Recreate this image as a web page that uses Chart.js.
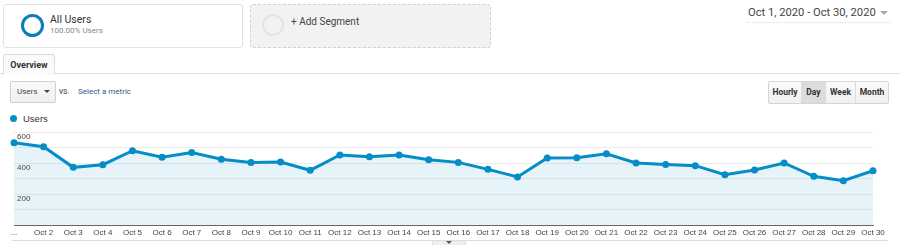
<!DOCTYPE html>
<html>
<head>
<meta charset="utf-8">
<script src="https://cdn.jsdelivr.net/npm/chart.js@4"></script>
<style>
  html, body { margin:0; padding:0; background:#fff; width:900px; height:245px; overflow:hidden; font-family: Roboto, "Liberation Sans", Arial, sans-serif; color:#333; }
  .abs { position:absolute; }
  .seg1 { left:3px; top:4px; width:238px; height:42px; border:1px solid #e2e2e2; border-radius:3px; background:#fff; }
  .seg2 { left:250px; top:4px; width:239px; height:42px; border:1px dashed #d2d2d2; border-radius:3px; background:#f2f2f2; }
  .ring { border-radius:50%; box-sizing:border-box; }
  .tab { left:3px; top:54px; width:50px; height:20px; border:1px solid #ddd; border-bottom:none; border-radius:3px 3px 0 0; background:#fafafa; font-size:9px; font-weight:bold; line-height:20px; text-align:center; color:#333; }
  .hline { left:0; top:73px; width:900px; height:1px; background:#e0e0e0; }
  .dd { left:10px; top:81px; width:44px; height:20px; border:1px solid #d0d0d0; border-radius:2px; background:linear-gradient(#fafafa,#f0f0f0); font-size:8px; line-height:20px; color:#444; }
  .btns { left:768px; top:81px; height:21px; display:flex; border:1px solid #d6d6d6; border-radius:2px; background:linear-gradient(#fafafa,#f1f1f1); }
  .btns div { font-size:8.5px; font-weight:bold; color:#333; line-height:21px; text-align:center; border-left:1px solid #dcdcdc; }
  .btns div:first-child { border-left:none; }
</style>
</head>
<body>
<div class="abs seg1"></div>
<div class="abs ring" style="left:21px;top:14px;width:23px;height:23px;border:3px solid #0a7eb8;"></div>
<div class="abs" style="left:50px;top:13px;font-size:10.5px;color:#333;">All Users</div>
<div class="abs" style="left:50px;top:26px;font-size:8px;color:#888;">100.00% Users</div>

<div class="abs seg2"></div>
<div class="abs ring" style="left:262px;top:14px;width:22px;height:22px;border:2px solid #e3e3e3;"></div>
<div class="abs" style="left:291px;top:16px;font-size:10px;color:#444;">+ Add Segment</div>

<div class="abs" style="left:748px;top:6px;font-size:11.2px;color:#444;">Oct 1, 2020 - Oct 30, 2020</div>
<div class="abs" style="left:880px;top:11px;width:0;height:0;border-left:4px solid transparent;border-right:4px solid transparent;border-top:4px solid #aaa;"></div>
<div class="abs" style="left:747px;top:22px;width:144px;border-top:1px dotted #ddd;"></div>

<div class="abs hline"></div>
<div class="abs tab">Overview</div>

<div class="abs dd"><span style="margin-left:6px;">Users</span></div>
<div class="abs" style="left:44px;top:90px;width:0;height:0;border-left:3px solid transparent;border-right:3px solid transparent;border-top:3px solid #444;"></div>
<div class="abs" style="left:59px;top:86px;font-size:8.5px;color:#444;">vs.</div>
<div class="abs" style="left:78px;top:87px;font-size:8px;color:#2d5c8c;">Select a metric</div>

<div class="abs btns">
  <div style="width:32px;">Hourly</div>
  <div style="width:23px;background:#dcdcdc;">Day</div>
  <div style="width:29px;">Week</div>
  <div style="width:32px;">Month</div>
</div>

<div class="abs" style="left:10px;top:115px;width:7px;height:7px;border-radius:50%;background:#058dc7;"></div>
<div class="abs" style="left:23px;top:113px;font-size:9.5px;color:#333;font-family:'Liberation Sans',Arial,sans-serif;">Users</div>

<div class="abs" style="left:0;top:120px;width:900px;height:125px;"><canvas id="usersChart"></canvas></div>

<div class="abs" style="left:12px;top:240px;width:876px;height:1px;background:#ddd;"></div>
<div class="abs" style="left:432px;top:240px;width:34px;height:6px;background:#eee;border:1px solid #ddd;box-sizing:border-box;"></div>
<div class="abs" style="left:446px;top:241px;width:0;height:0;border-left:3px solid transparent;border-right:3px solid transparent;border-top:3px solid #555;"></div>

<script>
const dates = ['...', 'Oct 2', 'Oct 3', 'Oct 4', 'Oct 5', 'Oct 6', 'Oct 7', 'Oct 8', 'Oct 9', 'Oct 10',
  'Oct 11', 'Oct 12', 'Oct 13', 'Oct 14', 'Oct 15', 'Oct 16', 'Oct 17', 'Oct 18', 'Oct 19', 'Oct 20',
  'Oct 21', 'Oct 22', 'Oct 23', 'Oct 24', 'Oct 25', 'Oct 26', 'Oct 27', 'Oct 28', 'Oct 29', 'Oct 30'];
const users = [531, 505, 372, 389, 479, 437, 467, 424, 404, 406,
  353, 452, 441, 452, 421, 404, 359, 310, 432, 434,
  460, 400, 391, 383, 325, 355, 400, 314, 286, 350];
const yLabels = [200, 400, 600];

function initChart() {
  const ctx = document.getElementById('usersChart').getContext('2d');
  new Chart(ctx, {
    type: 'line',
    data: { labels: dates, datasets: [{ label:'Users', data: users, borderColor:'#058dc7', backgroundColor:'rgba(5,141,199,0.1)', fill:true, borderWidth:3, pointRadius:3.5, pointBackgroundColor:'#058dc7', pointBorderWidth:0, tension:0 }] },
    options: {
      responsive:true, maintainAspectRatio:false, animation:false,
      layout: { padding: { left:14, right:27, top:12, bottom:0 } },
      plugins: { legend:{ display:false }, tooltip:{ enabled:false } },
      scales: {
        x: {
          grid: { display:false, drawTicks:false },
          border: { color:'#666', width:1 },
          ticks: { autoSkip:false, maxRotation:0, padding:3, color:'#444', font:{ family:'"Liberation Sans", Arial, sans-serif', size:8 } },
          afterFit: s => { s.height = 20; }
        },
        y: {
          min:0, max:600,
          grid: { color:'#ececec', drawTicks:false },
          border: { display:false },
          ticks: { stepSize:100, mirror:true, padding:3, labelOffset:5, color:'#444', font:{ family:'"Liberation Sans", Arial, sans-serif', size:8 },
            callback: v => yLabels.includes(v) ? v : '' },
          afterFit: s => { s.width = 0; }
        }
      }
    }
  });
}

document.addEventListener('DOMContentLoaded', initChart);
</script>
</body>
</html>
